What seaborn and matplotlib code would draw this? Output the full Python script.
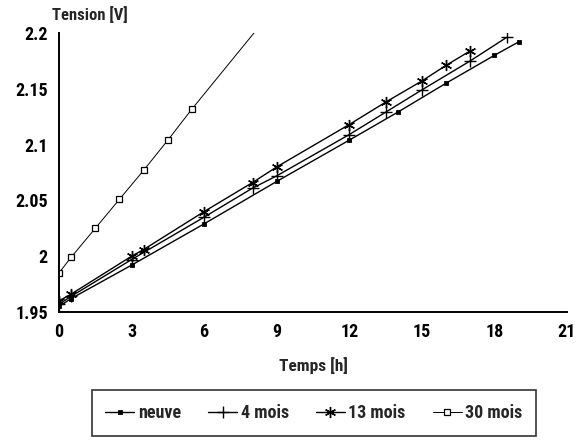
import matplotlib
matplotlib.use("Agg")
import matplotlib.pyplot as plt
import seaborn as sns
import pandas as pd
from matplotlib.ticker import FuncFormatter
from matplotlib import font_manager as fm

# Data
h_neuve = [0, 0.5, 3, 6, 9, 12, 14, 16, 18, 19]
v_neuve = [1.955, 1.962, 1.992, 2.029, 2.067, 2.104, 2.129, 2.155, 2.180, 2.192]

h_4 = [0, 0.5, 3, 6, 8, 9, 12, 13.5, 15, 17, 18.5]
v_4 = [1.957, 1.964, 1.997, 2.035, 2.061, 2.072, 2.109, 2.129, 2.149, 2.175, 2.196]

h_13 = [0, 0.5, 3, 3.5, 6, 8, 9, 12, 13.5, 15, 16, 17]
v_13 = [1.960, 1.966, 2.000, 2.006, 2.040, 2.066, 2.080, 2.118, 2.138, 2.157, 2.171, 2.184]

h_30 = [0, 0.5, 1.5, 2.5, 3.5, 4.5, 5.5, 9]
v_30 = [1.985, 1.999, 2.025, 2.051, 2.077, 2.104, 2.132, 2.225]
n_30_marked = 7  # last point is the continuation of the line (no marker)

labels = ["neuve", "4 mois", "13 mois", "30 mois"]
x_ticks = [0, 3, 6, 9, 12, 15, 18, 21]
y_ticks = [1.95, 2.0, 2.05, 2.1, 2.15, 2.2]

sns.set_style("white")
names = {f.name for f in fm.fontManager.ttflist}
fams = [n for n in ['DejaVu Sans Condensed', 'Liberation Sans Narrow', 'Roboto Condensed'] if n in names]
plt.rcParams['font.family'] = fams + ['DejaVu Sans']
plt.rcParams['font.stretch'] = 'condensed'
plt.rcParams['font.weight'] = 'bold'

fig = plt.figure(figsize=(5.81, 4.44), dpi=100)
ax = fig.add_axes([59/581, 1-312/444, (567-59)/581, (312-33)/444])

series = [
    (h_neuve, v_neuve, dict(marker='s', markersize=2.5, markerfacecolor='black', markeredgewidth=0.6, linewidth=1.0)),
    (h_4, v_4, dict(marker='+', markersize=9, markeredgewidth=1.0, linewidth=1.0)),
    (h_13, v_13, dict(marker=(6, 2, 0), markersize=8, markeredgewidth=1.0, linewidth=1.0)),
    (h_30, v_30, dict(marker='s', markersize=4.5, markerfacecolor='white', markeredgewidth=0.9,
                      linewidth=0.7, markevery=list(range(n_30_marked)))),
]

for (hx, vy, kw), lab in zip(series, labels):
    df = pd.DataFrame({"Temps": hx, "Tension": vy})
    sns.lineplot(data=df, x="Temps", y="Tension", ax=ax, color='black',
                 markeredgecolor='black', label=lab, sort=False, **kw)

ax.set_xlim(0, 21)
ax.set_ylim(1.95, 2.2)
ax.set_xticks(x_ticks)
ax.set_yticks(y_ticks)
ax.yaxis.set_major_formatter(FuncFormatter(lambda v, p: f"{v:g}"))
for s in ['top', 'right']:
    ax.spines[s].set_visible(False)
for s in ['left', 'bottom']:
    ax.spines[s].set_linewidth(1.4)
    ax.spines[s].set_color('black')
ax.tick_params(direction='inout', length=10, width=1.0, colors='black', labelsize=13, pad=3)
ax.set_xlabel("")
ax.set_ylabel("")
fig.text(90/581, 1-15/444, "Tension [V]", fontsize=12, ha='center', va='center')
fig.text(313/581, 1-366/444, "Temps [h]", fontsize=12.5, ha='center', va='center')

ax.get_legend().remove()
h, l = ax.get_legend_handles_labels()
leg = fig.legend(h, l, loc='center', bbox_to_anchor=(314/581, 1-413/444), ncol=4,
                 fontsize=13, frameon=True, fancybox=False, edgecolor='black',
                 handlelength=1.6, columnspacing=1.5, borderpad=0.75, handletextpad=0.2,
                 borderaxespad=0)
leg.get_frame().set_linewidth(1.2)

fig.savefig("out.png", dpi=100, facecolor='white')
